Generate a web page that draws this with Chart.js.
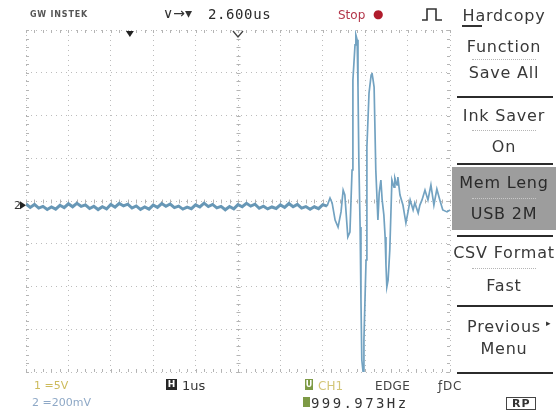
<!DOCTYPE html>
<html>
<head>
<meta charset="utf-8">
<script src="https://cdn.jsdelivr.net/npm/chart.js@4.4.1/dist/chart.umd.min.js"></script>
<style>
  html, body { margin: 0; padding: 0; background: #fff; }
  #scope { position: relative; width: 556px; height: 414px; overflow: hidden; font-family: "DejaVu Sans", sans-serif; color: #3a3a3a; }
  #scope canvas { position: absolute; left: 0; top: 0; }
  .lbl { position: absolute; white-space: nowrap; line-height: 1; }
  .mono { font-family: "DejaVu Sans Mono", monospace; }
  .mi { position: absolute; left: 452px; width: 104px; text-align: center; font-size: 16px; line-height: 1; letter-spacing: 0.8px; color: #383838; white-space: nowrap; }
  .sep { position: absolute; left: 457px; width: 96px; height: 2px; background: #2b2b2b; }
  .dots { position: absolute; left: 472px; width: 64px; height: 0; border-top: 1px dotted #b5b5b5; }
  .box { position: absolute; line-height: 1; text-align: center; font-weight: bold; }
</style>
</head>
<body>
<div id="scope">
  <canvas id="screen" width="556" height="414"></canvas>

  <!-- top status line -->
  <div class="lbl" style="left:30px;top:11px;font-size:8px;font-weight:bold;letter-spacing:0.8px;color:#555">GW INSTEK</div>
  <div class="lbl" style="left:163px;top:6px;font-size:14px;color:#333">∨→▾</div>
  <div class="lbl mono" style="left:208px;top:7px;font-size:14px;letter-spacing:0.6px;color:#2a2a2a">2.600us</div>
  <div class="lbl" style="left:338px;top:9px;font-size:12px;color:#b3364a">Stop</div>
  <div class="lbl" style="left:373px;top:8px;font-size:12px;color:#b01c2c">●</div>
  <svg style="position:absolute;left:421px;top:6px" width="22" height="16">
    <path d="M1 14 H6 V3 H15 V14 H21" fill="none" stroke="#333" stroke-width="1.6"/>
  </svg>

  <!-- side menu -->
  <div class="mi" style="top:8px">Hardcopy</div>
  <div style="position:absolute;left:462px;top:25px;width:20px;height:2px;background:#333"></div>
  <div class="mi" style="top:39px">Function</div>
  <div class="dots" style="top:59px"></div>
  <div class="mi" style="top:65px">Save All</div>
  <div class="sep" style="top:96px"></div>
  <div class="mi" style="top:108px">Ink Saver</div>
  <div class="dots" style="top:130px"></div>
  <div class="mi" style="top:139px">On</div>
  <div class="sep" style="top:163px"></div>
  <div style="position:absolute;left:452px;top:167px;width:104px;height:63px;background:#9d9d9d"></div>
  <div class="mi" style="top:175px;color:#2a2a2a">Mem Leng</div>
  <div class="dots" style="top:198px;border-color:#c8c8c8"></div>
  <div class="mi" style="top:206px;color:#2a2a2a">USB 2M</div>
  <div class="sep" style="top:235px"></div>
  <div class="mi" style="top:245px">CSV Format</div>
  <div class="dots" style="top:268px"></div>
  <div class="mi" style="top:278px">Fast</div>
  <div class="sep" style="top:305px"></div>
  <div class="mi" style="top:319px">Previous</div>
  <div class="lbl" style="left:546px;top:319px;font-size:9px;color:#333">▸</div>
  <div class="mi" style="top:341px">Menu</div>
  <div class="sep" style="top:372px"></div>

  <!-- bottom status line -->
  <div class="lbl" style="left:34px;top:380px;font-size:11px;color:#cdbb5c">1 =5V</div>
  <div class="lbl" style="left:32px;top:397px;font-size:11px;color:#8ea8c6">2 =200mV</div>
  <div class="box" style="left:166px;top:379px;width:11px;height:11px;background:#262626;color:#fff;font-size:9px;padding-top:1px;box-sizing:border-box">H</div>
  <div class="lbl" style="left:182px;top:379px;font-size:13px;color:#333">1us</div>
  <div class="box" style="left:305px;top:379px;width:8px;height:11px;background:#7d9a45;color:#fff;font-size:8px;padding-top:2px;box-sizing:border-box">U</div>
  <div class="lbl" style="left:318px;top:380px;font-size:12px;color:#d3c678">CH1</div>
  <div class="lbl" style="left:375px;top:380px;font-size:12px;letter-spacing:0.4px;color:#444">EDGE</div>
  <div class="lbl" style="left:438px;top:380px;font-size:12px;letter-spacing:0.8px;color:#444">ƒDC</div>
  <div class="box" style="left:303px;top:397px;width:7px;height:10px;background:#7d9a45"></div>
  <div class="lbl mono" style="left:311px;top:396px;font-size:14px;letter-spacing:2.4px;color:#333">999.973Hz</div>
  <div class="lbl" style="left:506px;top:397px;font-size:11px;font-weight:bold;letter-spacing:1px;color:#333;border:1px solid #444;padding:0 4px 0 5px">RP</div>

  <div class="lbl" style="left:14px;top:200px;font-size:11px;color:#333">2</div>
</div>

<script>
// ---- channel 2 trace, 1 us/div, 200 mV/div ----
// quiet part before the burst (time in us, level in mV)
const baselineTimes = [
  0.0, 0.1, 0.2, 0.3, 0.4, 0.5, 0.6, 0.7, 0.8, 0.9,
  1.0, 1.1, 1.2, 1.3, 1.4, 1.5, 1.6, 1.7, 1.8, 1.9,
  2.0, 2.1, 2.2, 2.3, 2.4, 2.5, 2.6, 2.7, 2.8, 2.9,
  3.0, 3.1, 3.2, 3.3, 3.4, 3.5, 3.6, 3.7, 3.8, 3.9,
  4.0, 4.1, 4.2, 4.3, 4.4, 4.5, 4.6, 4.7, 4.8, 4.9,
  5.0, 5.1, 5.2, 5.3, 5.4, 5.5, 5.6, 5.7, 5.8, 5.9,
  6.0, 6.1, 6.2, 6.3, 6.4, 6.5, 6.6, 6.7, 6.8, 6.9,
  7.0, 7.1
];
const baselineMv = [
  -14, -30, -16, -33, -25, -40, -28, -38, -20, -31,
  -13, -27, -11, -25, -18, -35, -25, -40, -27, -37,
  -16, -29, -11, -23, -15, -33, -23, -39, -28, -38,
  -19, -30, -12, -25, -14, -31, -24, -38, -29, -36,
  -18, -28, -10, -26, -16, -32, -25, -41, -26, -37,
  -17, -27, -11, -24, -15, -34, -24, -37, -28, -35,
  -18, -30, -12, -27, -16, -33, -26, -39, -27, -36,
  -17, -24
];
// the ringing burst
const burstTimes = [
  7.17, 7.22, 7.29, 7.36, 7.43, 7.48, 7.52, 7.57, 7.59, 7.64,
  7.69, 7.71, 7.76, 7.78, 7.81, 7.83, 7.85, 7.88, 7.90, 7.92,
  7.95, 7.97, 8.02, 8.04, 8.09, 8.14, 8.16, 8.18, 8.21, 8.25,
  8.30, 8.33, 8.37, 8.40, 8.44, 8.47, 8.49, 8.51, 8.54, 8.58,
  8.63, 8.68, 8.70, 8.75, 8.77, 8.82, 8.89, 8.96, 9.01, 9.06,
  9.13, 9.17, 9.25, 9.29, 9.34, 9.41, 9.48, 9.55, 9.62, 9.69,
  9.76, 9.83, 9.93, 10.0
];
const burstMv = [
  14, -9, -89, -122, -51, 51, 28, -112, -168, -145,
  145, 566, 730, 777, 754, 533, 192, -122, -463, -744,
  -800, -650, -276, 253, 505, 589, 599, 575, 533, 145,
  -89, 37, 98, 5, -65, -168, -299, -402, -370, -229,
  98, 65, 108, 75, 112, 28, -19, -103, -51, 5,
  -42, -9, -56, -19, 5, 51, 5, 75, -19, 56,
  5, -42, -51, -42
];

const timeMin = 0, timeMax = 10, usPerDiv = 1;      // 10 divisions
const mvMin = -800, mvMax = 800, mvPerDiv = 200;    // 8 divisions
const trigPosUs = 2.45;     // ▼ marker on the top edge
const ch2GroundMv = -20;    // "2▶" marker on the left edge

const quietPoints = baselineTimes.map((t, i) => ({ x: t, y: baselineMv[i] }));
const burstPoints = [quietPoints[quietPoints.length - 1]]
  .concat(burstTimes.map((t, i) => ({ x: t, y: burstMv[i] })));

// ---- minor ticks + position markers ----
const scopeMarks = {
  id: 'scopeMarks',
  beforeDatasetsDraw(chart) {
    const { ctx, chartArea: a, scales: { x, y } } = chart;
    ctx.save();
    ctx.strokeStyle = '#b4b4b4';
    ctx.lineWidth = 1;
    ctx.beginPath();
    const cx = Math.round(x.getPixelForValue((timeMin + timeMax) / 2)) + 0.5;
    const cy = Math.round(y.getPixelForValue(0)) + 0.5;
    for (let k = 0; k <= 50; k++) {
      const px = Math.round(x.getPixelForValue(timeMin + k * usPerDiv / 5)) + 0.5;
      ctx.moveTo(px, cy - 2); ctx.lineTo(px, cy + 2);
      ctx.moveTo(px, a.top); ctx.lineTo(px, a.top + 3);
      ctx.moveTo(px, a.bottom); ctx.lineTo(px, a.bottom - 3);
    }
    for (let k = 0; k <= 40; k++) {
      const py = Math.round(y.getPixelForValue(mvMin + k * mvPerDiv / 5)) + 0.5;
      ctx.moveTo(cx - 2, py); ctx.lineTo(cx + 2, py);
      ctx.moveTo(a.left, py); ctx.lineTo(a.left + 3, py);
      ctx.moveTo(a.right, py); ctx.lineTo(a.right - 3, py);
    }
    ctx.stroke();
    ctx.restore();
  },
  afterDraw(chart) {
    const { ctx, chartArea: a, scales: { x, y } } = chart;
    ctx.save();
    ctx.fillStyle = '#222';
    ctx.strokeStyle = '#444';
    // trigger position
    const tx = x.getPixelForValue(trigPosUs);
    ctx.beginPath();
    ctx.moveTo(tx - 4, a.top + 1); ctx.lineTo(tx + 4, a.top + 1); ctx.lineTo(tx, a.top + 7);
    ctx.closePath(); ctx.fill();
    // screen centre
    const mx = x.getPixelForValue((timeMin + timeMax) / 2);
    ctx.lineWidth = 1.3;
    ctx.beginPath();
    ctx.moveTo(mx - 5, a.top + 1); ctx.lineTo(mx, a.top + 7); ctx.lineTo(mx + 5, a.top + 1);
    ctx.stroke();
    // channel 2 ground
    const gy = y.getPixelForValue(ch2GroundMv);
    ctx.beginPath();
    ctx.moveTo(a.left - 6, gy - 4); ctx.lineTo(a.left, gy); ctx.lineTo(a.left - 6, gy + 4);
    ctx.closePath(); ctx.fill();
    ctx.restore();
  }
};

const gridStyle = { color: 'rgba(160,160,160,0.7)', lineWidth: 1, drawTicks: false };

new Chart(document.getElementById('screen'), {
  type: 'scatter',
  plugins: [scopeMarks],
  data: {
    datasets: [{
      label: 'CH2 quiet',
      data: quietPoints,
      showLine: true,
      borderColor: '#6797b6',
      borderWidth: 3,
      pointRadius: 0,
      tension: 0
    }, {
      label: 'CH2 burst',
      data: burstPoints,
      showLine: true,
      borderColor: '#72a2c1',
      borderWidth: 1.7,
      pointRadius: 0,
      tension: 0
    }]
  },
  options: {
    responsive: false,
    animation: false,
    events: [],
    layout: { padding: { left: 26, top: 30, right: 106, bottom: 42 } },
    plugins: { legend: { display: false }, tooltip: { enabled: false } },
    scales: {
      x: {
        type: 'linear', min: timeMin, max: timeMax,
        ticks: { display: false, stepSize: usPerDiv },
        grid: gridStyle,
        border: { display: false, dash: [1, 4] }
      },
      y: {
        type: 'linear', min: mvMin, max: mvMax,
        ticks: { display: false, stepSize: mvPerDiv },
        grid: gridStyle,
        border: { display: false, dash: [1, 4] }
      }
    }
  }
});
</script>
</body>
</html>
